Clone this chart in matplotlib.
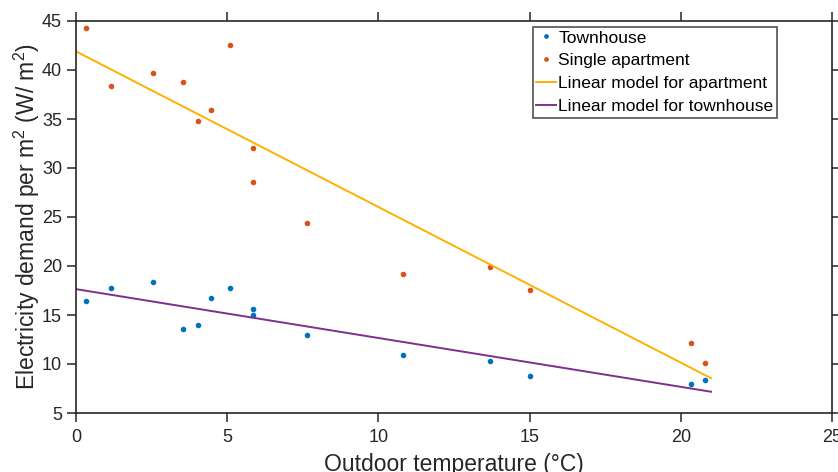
import numpy as np
import matplotlib
matplotlib.use("Agg")
import matplotlib.pyplot as plt

# outdoor temperature (degC) of each measurement
temp = [0.32, 1.17, 2.54, 3.55, 4.04, 4.47, 5.10, 5.84, 5.86, 7.65,
        10.82, 13.70, 15.02, 20.35, 20.81]
# electricity demand per m2 (W/m2)
townhouse = [16.4, 17.77, 18.36, 13.58, 14.03, 16.69, 17.71, 15.63, 14.95, 13.0,
             10.96, 10.3, 8.8, 8.0, 8.36]
apartment = [44.3, 38.4, 39.7, 38.76, 34.84, 35.9, 42.6, 28.6, 32.05, 24.4,
             19.2, 19.86, 17.57, 12.1, 10.1]

# linear models: intercept, slope, over the range shown
model_range = [0, 21]
apt_model = (41.9, -1.588)
town_model = (17.64, -0.4986)

xticks = [0, 5, 10, 15, 20, 25]
yticks = [5, 10, 15, 20, 25, 30, 35, 40, 45]

plt.rcParams['font.family'] = ['Liberation Sans', 'DejaVu Sans']
plt.rcParams['mathtext.fontset'] = 'custom'
plt.rcParams['mathtext.rm'] = 'Liberation Sans'
plt.rcParams['mathtext.it'] = 'Liberation Sans'
ink = '#262626'

fig = plt.figure(figsize=(8.38, 4.72), dpi=100)
ax = fig.add_axes([76 / 838, 1 - 413 / 472, 756 / 838, 392 / 472])

xr = np.array(model_range, dtype=float)
ax.plot(temp, townhouse, '.', color='#0072BD', markersize=6, label='Townhouse')
ax.plot(temp, apartment, '.', color='#D95319', markersize=6, label='Single apartment')
ax.plot(xr, apt_model[0] + apt_model[1] * xr, color='#FFB000', linewidth=1.4,
        label='Linear model for apartment')
ax.plot(xr, town_model[0] + town_model[1] * xr, color='#7E2F8E', linewidth=1.4,
        label='Linear model for townhouse')

ax.set_xlim(0, 25)
ax.set_ylim(5, 45)
ax.set_xticks(xticks)
ax.set_yticks(yticks)
ax.tick_params(direction='out', length=6.5, width=1.1, colors=ink, labelsize=13,
               top=True, right=True, labeltop=False, labelright=False)
ax.tick_params(axis='x', pad=5)
for s in ax.spines.values():
    s.set_linewidth(1.2)
    s.set_color(ink)

ax.set_xlabel('Outdoor temperature (°C)', fontsize=16.5, color=ink, labelpad=5)
ax.set_ylabel('Electricity demand per m$^2$ (W/ m$^2$)', fontsize=16.5, color=ink, labelpad=0)

leg = ax.legend(loc='upper left', bbox_to_anchor=(0.6045, 0.985), borderaxespad=0,
                fontsize=12.5, frameon=True, fancybox=False, handlelength=1.15,
                handletextpad=0.1, labelspacing=0.45, borderpad=0.2, markerscale=0.8)
leg.get_frame().set_edgecolor(ink)
leg.get_frame().set_linewidth(1.2)

fig.savefig('out.png', dpi=100)
